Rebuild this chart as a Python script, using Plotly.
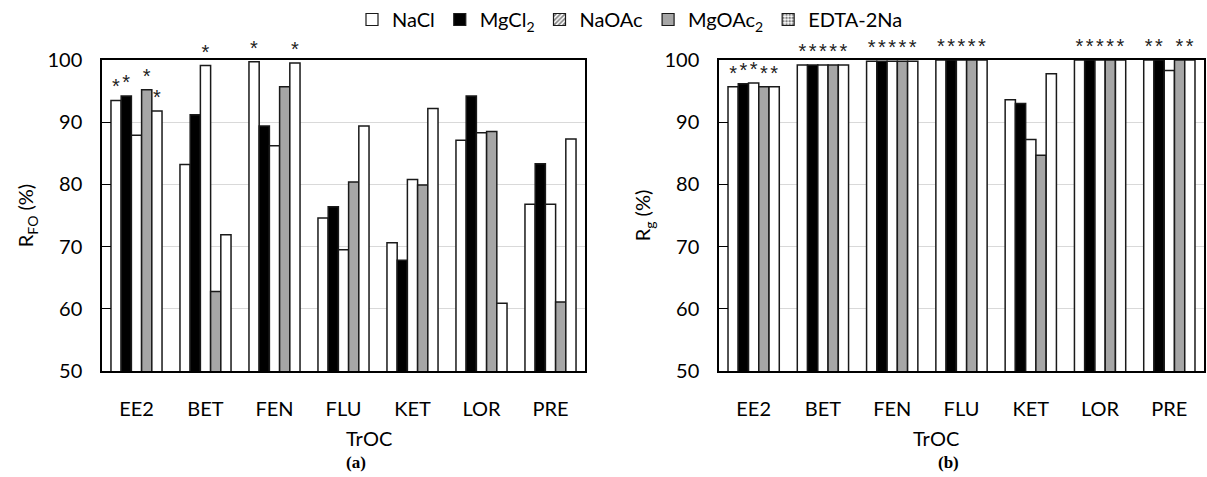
import plotly.graph_objects as go

categories = ["EE2", "BET", "FEN", "FLU", "KET", "LOR", "PRE"]
series_names = ["NaCl", "MgCl<sub>2</sub>", "NaOAc", "MgOAc<sub>2</sub>", "EDTA-2Na"]

# Panel (a): R_FO (%)
rfo_nacl = [93.5, 83.2, 99.7, 74.6, 70.6, 87.1, 76.8]
rfo_mgcl2 = [94.2, 91.2, 89.4, 76.4, 67.8, 94.2, 83.3]
rfo_naoac = [87.9, 99.1, 86.2, 69.5, 80.8, 88.3, 76.8]
rfo_mgoac2 = [95.2, 62.8, 95.7, 80.4, 79.9, 88.5, 61.1]
rfo_edta = [91.8, 71.9, 99.5, 89.4, 92.2, 60.9, 87.3]
rfo_star_nacl = [1, 0, 1, 0, 0, 0, 0]
rfo_star_mgcl2 = [1, 0, 0, 0, 0, 0, 0]
rfo_star_naoac = [0, 1, 0, 0, 0, 0, 0]
rfo_star_mgoac2 = [1, 0, 0, 0, 0, 0, 0]
rfo_star_edta = [1, 0, 1, 0, 0, 0, 0]

# Panel (b): R_g (%)
rg_nacl = [95.7, 99.2, 99.8, 100.0, 93.6, 100.0, 100.0]
rg_mgcl2 = [96.2, 99.2, 99.8, 100.0, 93.0, 100.0, 100.0]
rg_naoac = [96.3, 99.2, 99.8, 100.0, 87.2, 100.0, 98.3]
rg_mgoac2 = [95.7, 99.2, 99.8, 100.0, 84.7, 100.0, 100.0]
rg_edta = [95.7, 99.2, 99.8, 100.0, 97.8, 100.0, 100.0]
rg_star_nacl = [1, 1, 1, 1, 0, 1, 1]
rg_star_mgcl2 = [1, 1, 1, 1, 0, 1, 1]
rg_star_naoac = [1, 1, 1, 1, 0, 1, 0]
rg_star_mgoac2 = [1, 1, 1, 1, 0, 1, 1]
rg_star_edta = [1, 1, 1, 1, 0, 1, 1]

y_ticks = [50, 60, 70, 80, 90, 100]

fills = ["white", "black", "white", "#a6a6a6", "white"]
legend_patterns = ["", "", "/", "", "."]

FONT = "Lato"

fig = go.Figure()

panels = [
    ("x", "y", [rfo_nacl, rfo_mgcl2, rfo_naoac, rfo_mgoac2, rfo_edta],
     [rfo_star_nacl, rfo_star_mgcl2, rfo_star_naoac, rfo_star_mgoac2, rfo_star_edta]),
    ("x2", "y2", [rg_nacl, rg_mgcl2, rg_naoac, rg_mgoac2, rg_edta],
     [rg_star_nacl, rg_star_mgcl2, rg_star_naoac, rg_star_mgoac2, rg_star_edta]),
]

for xa, ya, vals, stars in panels:
    for i, (v, s) in enumerate(zip(vals, stars)):
        fig.add_trace(go.Bar(
            x=categories, y=v, xaxis=xa, yaxis=ya,
            name=series_names[i], showlegend=False,
            marker=dict(color=fills[i], line=dict(color="#1a1a1a", width=1.5)),
            text=["*" if k else "" for k in s],
            textposition="outside", cliponaxis=False,
            textfont=dict(size=20, color="#222222", family="Liberation Sans"),
            offsetgroup=str(i),
        ))

# legend entries (with patterns as in the reference legend)
for i in range(5):
    fig.add_trace(go.Bar(
        x=[None], y=[None], name=series_names[i], showlegend=True,
        marker=dict(color=fills[i], line=dict(color="#1a1a1a", width=1.2),
                    pattern=dict(shape=legend_patterns[i], fgcolor="black",
                                 size=4, solidity=0.5)),
    ))

axis_common = dict(
    showline=True, linecolor="black", linewidth=1.5, mirror=True,
    tickfont=dict(size=20, family=FONT, color="black"),
    automargin=False,
)

xl = [102 / 1207, 585 / 1207]
xr = [719 / 1207, 1204 / 1207]
ydom = [1 - 371 / 477, 1 - 60 / 477]

fig.update_layout(
    width=1207, height=477,
    margin=dict(l=0, r=0, t=0, b=0, autoexpand=False),
    plot_bgcolor="white", paper_bgcolor="white",
    barmode="group", bargap=0.26, bargroupgap=0,
    font=dict(family=FONT, color="black"),
    xaxis=dict(domain=xl, anchor="y", ticks="", ticklabelstandoff=19,
               **axis_common),
    yaxis=dict(domain=ydom, anchor="x", range=[50, 100], tickvals=y_ticks,
               ticks="inside", ticklen=9, tickcolor="black", tickwidth=1.2,
               showgrid=True, gridcolor="#d9d9d9", gridwidth=1.2,
               ticklabelstandoff=14,
               title=dict(text="R<sub>FO</sub> (%)", font=dict(size=20, family=FONT), standoff=8),
               **axis_common),
    xaxis2=dict(domain=xr, anchor="y2", ticks="", ticklabelstandoff=19,
                **axis_common),
    yaxis2=dict(domain=ydom, anchor="x2", range=[50, 100], tickvals=y_ticks,
                ticks="inside", ticklen=9, tickcolor="black", tickwidth=1.2,
                showgrid=True, gridcolor="#d9d9d9", gridwidth=1.2,
                ticklabelstandoff=14,
                title=dict(text="R<sub>g</sub> (%)", font=dict(size=20, family=FONT), standoff=8),
                **axis_common),
    legend=dict(orientation="h", x=630 / 1207, xanchor="center", y=1.0, yanchor="top",
                font=dict(size=20, family=FONT), itemwidth=30,
                bgcolor="rgba(0,0,0,0)", tracegroupgap=0),
    annotations=[
        dict(text="TrOC", x=(xl[0] + xl[1]) / 2, y=1 - 438 / 477,
             xref="paper", yref="paper", showarrow=False, yanchor="middle",
             font=dict(size=20, family=FONT)),
        dict(text="TrOC", x=(xr[0] + xr[1]) / 2, y=1 - 438 / 477,
             xref="paper", yref="paper", showarrow=False, yanchor="middle",
             font=dict(size=20, family=FONT)),
        dict(text="<b>(a)</b>", x=(xl[0] + xl[1]) / 2, y=1 - 462 / 477,
             xref="paper", yref="paper", showarrow=False, yanchor="middle",
             font=dict(size=17, family="Liberation Serif")),
        dict(text="<b>(b)</b>", x=(xr[0] + xr[1]) / 2, y=1 - 462 / 477,
             xref="paper", yref="paper", showarrow=False, yanchor="middle",
             font=dict(size=17, family="Liberation Serif")),
    ],
)

fig.write_html("out.html")
